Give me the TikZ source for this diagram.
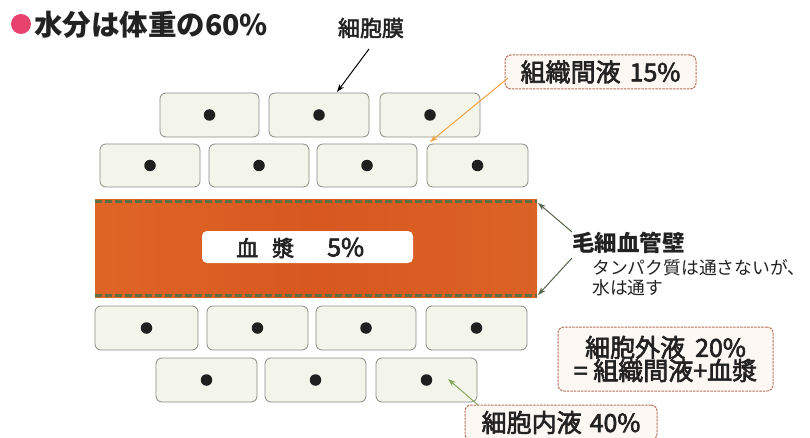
\documentclass[tikz,border=0pt]{standalone}
\usepackage{fontspec}
\setmainfont{Noto Sans CJK JP}
\newfontfamily\jpm{Noto Sans CJK JP}[FakeBold=2.5]
\usetikzlibrary{arrows.meta}
\definecolor{cellfill}{HTML}{F3F5EA}
\definecolor{cellgray}{HTML}{8B8B86}
\definecolor{boxred}{HTML}{B8735F}
\definecolor{boxfill}{HTML}{FDF8F3}
\definecolor{wallgreen}{HTML}{5E6E45}
\definecolor{arrorange}{HTML}{F2A444}
\definecolor{arrgreen}{HTML}{86A65C}
\definecolor{arrwall}{HTML}{55654A}
\definecolor{pinkdot}{HTML}{E8436E}
\definecolor{txt}{HTML}{222222}
\definecolor{oA}{HTML}{F2A86E}
\definecolor{oB}{HTML}{E46E2C}
\definecolor{oC}{HTML}{D85820}
\definecolor{oD}{HTML}{DE6A2A}
\definecolor{oE}{HTML}{EFA466}
\pgfdeclarehorizontalshading{bandshade}{100bp}{color(0bp)=(oA); color(8bp)=(oB); color(50bp)=(oC); color(92bp)=(oD); color(100bp)=(oE)}
\tikzset{
  cellbox/.style={draw=cellgray, line width=0.8pt, fill=cellfill, rounded corners=6pt, minimum height=44pt, inner sep=0pt},
  nucleus/.style={circle, fill=black!88, inner sep=0pt, minimum size=11.5pt},
  labelbox/.style={draw=boxred, line width=1pt, dash pattern=on 2.5pt off 1pt, fill=boxfill, rounded corners=6pt, inner sep=0pt, align=center, text=txt},
  arr/.style={-{Stealth[length=8pt,width=5.5pt]}, line width=1pt},
  wall/.style={draw=wallgreen, line width=2.6pt, dash pattern=on 7pt off 3pt},
  jtext/.style={inner sep=0pt, text=txt},
}
\begin{document}
\begin{tikzpicture}[x=1pt,y=-1pt]
\useasboundingbox[fill=white] (0,0) rectangle (810,438);
% title
\fill[pinkdot] (21,24) circle (10);
\node[jtext, anchor=west] (title) at (34,25) {\fontsize{28.5}{32}\selectfont\bfseries 水分は体重の60\%};
% row 1
\node[cellbox, minimum width=99pt] (a1) at (209.5,115) {};
\node[cellbox, minimum width=100pt] (a2) at (319,115) {};
\node[cellbox, minimum width=100pt] (a3) at (430,115) {};
% row 2
\node[cellbox, minimum width=100pt, minimum height=43pt] (b1) at (150,165.5) {};
\node[cellbox, minimum width=100pt, minimum height=43pt] (b2) at (259,165.5) {};
\node[cellbox, minimum width=100pt, minimum height=43pt] (b3) at (367,165.5) {};
\node[cellbox, minimum width=101pt, minimum height=43pt] (b4) at (477.5,165.5) {};
% row 3
\node[cellbox, minimum width=103pt] (c1) at (146.5,328) {};
\node[cellbox, minimum width=101pt] (c2) at (257.5,328) {};
\node[cellbox, minimum width=100pt] (c3) at (366,328) {};
\node[cellbox, minimum width=101pt] (c4) at (476.5,328) {};
% row 4
\node[cellbox, minimum width=101pt] (d1) at (206.5,380) {};
\node[cellbox, minimum width=101pt] (d2) at (315.5,380) {};
\node[cellbox, minimum width=101pt] (d3) at (426.5,380) {};
% nuclei
\foreach \c in {a1,a2,a3,b1,b2,b3,b4,c1,c2,c3,c4,d1,d2,d3}
  \node[nucleus] (\c n) at (\c.center) {};
% capillary band
\node[rectangle, inner sep=0pt, minimum width=442pt, minimum height=97pt, shading=bandshade] (band) at (316,248.5) {};
\draw[wall] ([yshift=-1.5pt]band.north west) -- ([yshift=-1.5pt]band.north east);
\draw[wall] ([yshift=1.5pt]band.south west) -- ([yshift=1.5pt]band.south east);
\node[fill=white, rounded corners=5pt, inner sep=0pt, minimum width=211pt, minimum height=32pt] (plasma) at (307.5,247) {};
\node[jtext, anchor=west] (plasmatxt) at (236,248) {\jpm\fontsize{22}{24}\selectfont 血\hspace{14pt}漿\hspace{33pt}\fontsize{25}{26}\selectfont 5\%};
% 細胞膜
\node[jtext] (mem) at (371,28) {\jpm\fontsize{22}{24}\selectfont 細胞膜};
\coordinate (memtail) at (369,49);
\coordinate (memtip) at (337,92);
\draw[arr, black] (memtail) -- (memtip);
% 組織間液
\node[labelbox, minimum width=191pt, minimum height=34pt] (isf) at (600.5,72) {\jpm\fontsize{25}{28}\selectfont 組織間液\hspace{9pt}15\%};
\coordinate (isftail) at (508,78);
\coordinate (isftip) at (430,142);
\draw[arr, arrorange] (isftail) -- (isftip);
% 毛細血管壁
\node[jtext, anchor=west] (wallt) at (572,243) {\fontsize{22.5}{24}\selectfont\bfseries 毛細血管壁};
\node[jtext, anchor=west] (sub1) at (592,268) {\fontsize{17.8}{20}\selectfont タンパク質は通さないが、};
\node[jtext, anchor=west] (sub2) at (592,288) {\fontsize{17.8}{20}\selectfont 水は通す};
\coordinate (w1tail) at (572,232);
\coordinate (w1tip) at (538,203);
\coordinate (w2tail) at (572,258);
\coordinate (w2tip) at (538,295);
\draw[arr, arrwall] (w1tail) -- (w1tip);
\draw[arr, arrwall] (w2tail) -- (w2tip);
% 細胞外液
\node[labelbox, minimum width=215pt, minimum height=64pt] (ecf) at (665.5,359) {\jpm\fontsize{25}{27}\selectfont 細胞外液\hspace{10pt}20\%\\[-1pt]\jpm\fontsize{25}{27}\selectfont = 組織間液+血漿};
% 細胞内液
\node[labelbox, minimum width=192pt, minimum height=35pt] (icf) at (561,422.5) {\jpm\fontsize{25}{27}\selectfont 細胞内液\hspace{8pt}40\%};
\coordinate (icftail) at (478,405);
\coordinate (icftip) at (448,379);
\draw[arr, arrgreen] (icftail) -- (icftip);
\end{tikzpicture}
\end{document}
